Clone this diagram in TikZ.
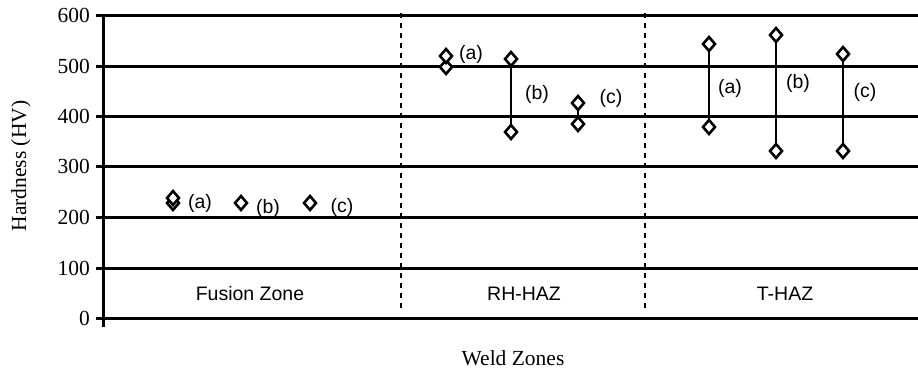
\documentclass[tikz,border=0pt]{standalone}
\usepackage{fontspec}
\setmainfont{Liberation Serif}
\setsansfont{Liberation Sans}
\usetikzlibrary{shapes.geometric}
\begin{document}
\begin{tikzpicture}[x=1pt,y=-1pt,
  gridln/.style={line width=3pt},
  zonesep/.style={line width=2.8pt,dash pattern=on 5pt off 5pt},
  datapt/.style={diamond,draw,line width=2.6pt,fill=white,inner sep=0pt,minimum width=13pt,minimum height=15pt},
  rangeln/.style={line width=2.6pt},
  ptlab/.style={font=\sffamily\fontsize{19.5}{19.5}\selectfont,inner sep=0pt},
  ticklbl/.style={font=\fontsize{21.5}{21.5}\selectfont,anchor=east,inner sep=0pt},
  axtitle/.style={font=\fontsize{21.5}{21.5}\selectfont,inner sep=0pt}]
\useasboundingbox (0,0) rectangle (918,372);
% gridlines
\foreach \v/\y in {0/318,100/268,200/217,300/166,400/116,500/66,600/15}{
  \draw[gridln] (96,\y) -- (918,\y);
  \node[ticklbl] (t\v) at (90,\y) {\v};
}
\coordinate (axtop) at (103,15);
\coordinate (axbot) at (103,327);
\draw[line width=3pt] (axtop) -- (axbot);
% zone separators
\coordinate (s1t) at (401,13); \coordinate (s1b) at (401,310);
\coordinate (s2t) at (645,13); \coordinate (s2b) at (645,310);
\draw[zonesep] (s1t) -- (s1b);
\draw[zonesep] (s2t) -- (s2b);
% axis titles
\node[axtitle,rotate=90] (ytitle) at (21,166) {Hardness (HV)};
\node[axtitle] (xtitle) at (513,358) {Weld Zones};
% zone names
\node[ptlab] (fz) at (250,294) {Fusion Zone};
\node[ptlab] (rh) at (524,294) {RH-HAZ};
\node[ptlab] (th) at (785,294) {T-HAZ};
% range lines
\coordinate (rba) at (511,59); \coordinate (rbb) at (511,132);
\coordinate (rca) at (578,103); \coordinate (rcb) at (578,124);
\coordinate (taa) at (709,44); \coordinate (tab) at (709,127);
\coordinate (tba) at (776,35); \coordinate (tbb) at (776,151);
\coordinate (tca) at (843,54); \coordinate (tcb) at (843,151);
\draw[rangeln] (rba) -- (rbb);
\draw[rangeln] (rca) -- (rcb);
\draw[rangeln] (taa) -- (tab);
\draw[rangeln] (tba) -- (tbb);
\draw[rangeln] (tca) -- (tcb);
% data points
\node[datapt] (fa1) at (173,203) {};
\node[datapt] (fa2) at (173,198) {};
\node[datapt] (fb) at (241,203) {};
\node[datapt] (fc) at (310,203) {};
\node[datapt] (ra2) at (446,67) {};
\node[datapt] (ra1) at (446,56) {};
\node[datapt] (rb1) at (rba) {};
\node[datapt] (rb2) at (rbb) {};
\node[datapt] (rc1) at (rca) {};
\node[datapt] (rc2) at (rcb) {};
\node[datapt] (ta1) at (taa) {};
\node[datapt] (ta2) at (tab) {};
\node[datapt] (tb1) at (tba) {};
\node[datapt] (tb2) at (tbb) {};
\node[datapt] (tc1) at (tca) {};
\node[datapt] (tc2) at (tcb) {};
% labels
\node[ptlab] (lfa) at (200,203) {(a)};
\node[ptlab] (lfb) at (268,208) {(b)};
\node[ptlab] (lfc) at (342,207) {(c)};
\node[ptlab] (lra) at (471,54) {(a)};
\node[ptlab] (lrb) at (537,94) {(b)};
\node[ptlab] (lrc) at (611,98) {(c)};
\node[ptlab] (lta) at (730,88) {(a)};
\node[ptlab] (ltb) at (798,83) {(b)};
\node[ptlab] (ltc) at (865,92) {(c)};
\end{tikzpicture}
\end{document}
